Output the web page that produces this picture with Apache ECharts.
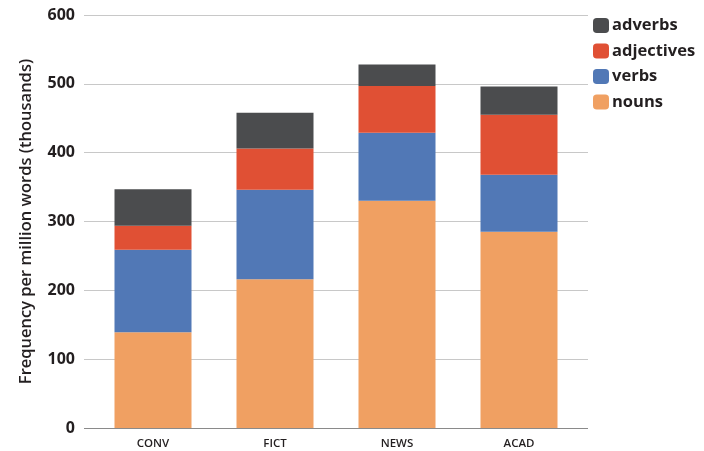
<!DOCTYPE html>
<html>
<head>
<meta charset="utf-8">
<script src="https://cdn.jsdelivr.net/npm/echarts@6/dist/echarts.min.js"></script>
<style>html,body{margin:0;padding:0;background:#fff}#c{width:704px;height:451px}</style>
</head>
<body>
<div id="c"></div>
<script>
var categories = ['CONV', 'FICT', 'NEWS', 'ACAD'];
var nouns = [139, 216, 330, 285];
var verbs = [120, 130, 99, 83];
var adjectives = [35, 60, 68, 87];
var adverbs = [53, 52, 31, 41];
var yTicks = [0, 100, 200, 300, 400, 500, 600];

var chart = echarts.init(document.getElementById('c'));
var font = 'Open Sans';
function ser(name, data, color) {
  return { name: name, type: 'bar', stack: 'total', data: data, barWidth: 77,
    itemStyle: { color: color }, emphasis: { disabled: true } };
}
chart.setOption({
  animation: false,
  grid: { left: 92, right: 124, top: 15, bottom: 23 },
  legend: {
    orient: 'vertical', left: 593, top: 17, padding: 0,
    icon: 'roundRect', itemWidth: 16, itemHeight: 15, itemGap: 8.5,
    data: ['adverbs', 'adjectives', 'verbs', 'nouns'],
    textStyle: { fontFamily: font, fontWeight: 700, fontSize: 16.5, color: '#231f20', padding: [0, 0, 0, -2] }
  },
  xAxis: {
    type: 'category', data: categories,
    axisLine: { show: false }, axisTick: { show: false },
    axisLabel: { margin: 10, fontFamily: font, fontSize: 11.5, fontWeight: 600, color: '#231f20' }
  },
  yAxis: [{
    type: 'value', min: yTicks[0], max: yTicks[yTicks.length - 1], interval: 100,
    name: 'Frequency per million words (thousands)', nameLocation: 'middle', nameGap: 57,
    nameTextStyle: { fontFamily: font, fontSize: 16.5, fontWeight: 600, color: '#231f20' },
    axisLine: { show: false },
    axisTick: { show: true, length: 8, lineStyle: { color: '#c8c8c8' } },
    axisLabel: { margin: 17, fontFamily: font, fontSize: 16, fontWeight: 700, color: '#231f20' },
    splitLine: { lineStyle: { color: '#c8c8c8', width: 1 } }
  }, {
    type: 'value', position: 'right', min: yTicks[0], max: yTicks[yTicks.length - 1], interval: 100,
    axisLine: { show: false }, axisLabel: { show: false }, splitLine: { show: false },
    axisTick: { show: true, length: 8, lineStyle: { color: '#c8c8c8' } }
  }],
  series: [
    ser('nouns', nouns, '#f0a062'),
    ser('verbs', verbs, '#5178b6'),
    ser('adjectives', adjectives, '#e05034'),
    ser('adverbs', adverbs, '#4b4c4e')
  ]
});
// axis baseline spanning the extended gridline width
var p0 = chart.convertToPixel({ yAxisIndex: 0 }, 0);
chart.setOption({ graphic: [{ type: 'line', shape: { x1: 84, y1: Math.round(p0) + 0.5, x2: 588, y2: Math.round(p0) + 0.5 },
  style: { stroke: '#8a8a8a', lineWidth: 1 }, z: 10 }] });
</script>
</body>
</html>
